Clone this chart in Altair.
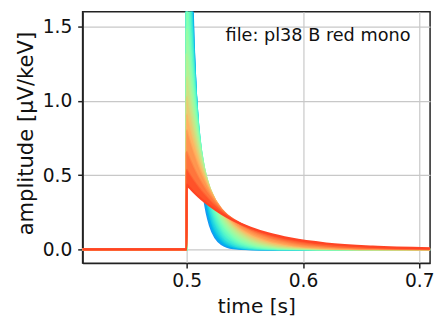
import altair as alt
import pandas as pd

# ---- data ----
time_s = [0.41, 0.4999, 0.5, 0.501, 0.503, 0.506, 0.51, 0.515, 0.52, 0.53,
          0.54, 0.555, 0.57, 0.59, 0.62, 0.66, 0.71]

p00 = [0, 0, 3.500, 3.001, 2.206, 1.391, 0.751, 0.348, 0.161, 0.0347, 0.0074, 0.0007, 0, 0, 0, 0, 0]
p01 = [0, 0, 3.096, 2.701, 2.056, 1.365, 0.791, 0.400, 0.202, 0.0517, 0.0132, 0.0017, 0.0002, 0, 0, 0, 0]
p02 = [0, 0, 2.739, 2.427, 1.905, 1.325, 0.816, 0.446, 0.243, 0.0725, 0.0216, 0.0035, 0.0006, 0, 0, 0, 0]
p03 = [0, 0, 2.423, 2.176, 1.755, 1.272, 0.828, 0.484, 0.283, 0.0966, 0.0330, 0.0066, 0.0013, 0.0002, 0, 0, 0]
p04 = [0, 0, 2.143, 1.948, 1.610, 1.210, 0.827, 0.514, 0.319, 0.1231, 0.0475, 0.0114, 0.0027, 0.0004, 0, 0, 0]
p05 = [0, 0, 1.896, 1.742, 1.471, 1.142, 0.814, 0.534, 0.350, 0.1501, 0.0645, 0.0181, 0.0051, 0.0009, 0.0001, 0, 0]
p06 = [0, 0, 1.677, 1.556, 1.339, 1.070, 0.792, 0.545, 0.374, 0.1769, 0.0836, 0.0272, 0.0088, 0.0020, 0.0002, 0, 0]
p07 = [0, 0, 1.483, 1.388, 1.215, 0.995, 0.763, 0.547, 0.392, 0.2018, 0.1038, 0.0383, 0.0141, 0.0037, 0.0005, 0, 0]
p08 = [0, 0, 1.312, 1.237, 1.099, 0.921, 0.727, 0.541, 0.403, 0.2234, 0.1239, 0.0511, 0.0211, 0.0065, 0.0011, 0.0001, 0]
p09 = [0, 0, 1.161, 1.102, 0.992, 0.848, 0.688, 0.529, 0.408, 0.2414, 0.1430, 0.0652, 0.0297, 0.0104, 0.0022, 0.0003, 0]
p10 = [0, 0, 1.027, 0.980, 0.894, 0.777, 0.646, 0.512, 0.406, 0.2551, 0.1603, 0.0799, 0.0398, 0.0157, 0.0039, 0.0006, 0.0001]
p11 = [0, 0, 0.908, 0.871, 0.802, 0.709, 0.601, 0.490, 0.398, 0.2640, 0.1748, 0.0942, 0.0508, 0.0223, 0.0065, 0.0012, 0.0002]
p12 = [0, 0, 0.803, 0.774, 0.720, 0.645, 0.557, 0.464, 0.387, 0.2684, 0.1863, 0.1077, 0.0623, 0.0300, 0.0100, 0.0023, 0.0004]
p13 = [0, 0, 0.656, 0.637, 0.600, 0.548, 0.486, 0.419, 0.361, 0.2674, 0.1982, 0.1266, 0.0808, 0.0444, 0.0181, 0.0055, 0.0012]
p14 = [0, 0, 0.535, 0.522, 0.497, 0.462, 0.419, 0.371, 0.328, 0.2567, 0.2010, 0.1393, 0.0965, 0.0591, 0.0284, 0.0107, 0.0031]
p15 = [0, 0, 0.4365, 0.428, 0.411, 0.387, 0.357, 0.323, 0.293, 0.2396, 0.1961, 0.1453, 0.1076, 0.0722, 0.0396, 0.0178, 0.0065]

pulses = [p00, p01, p02, p03, p04, p05, p06, p07, p08, p09, p10, p11, p12, p13, p14, p15]

pulse_colors = ["#1a96f3", "#01b3ec", "#17cce4", "#30e1db", "#48f0d0", "#61fac4",
                "#79ffb8", "#92fdaa", "#aaf69b", "#c3e98b", "#dbd77b", "#f4c06a",
                "#ffa558", "#ff8646", "#ff6433", "#ff4424"]
# fill colours of the gradient between neighbouring pulses
band_colors = ["#0da5ef", "#0bc0e8", "#24d7df", "#3ce9d6", "#55f6ca", "#6dfdbe",
               "#86ffb1", "#9efaa3", "#b7f093", "#cfe183", "#e8cc72", "#ffb361",
               "#ff964f", "#ff753c", "#ff5229"]

x_ticks = [0.5, 0.6, 0.7]
y_ticks = [0.0, 0.5, 1.0, 1.5]
title_text = "Pulses vs. time"
annotation_text = "file: pl38 B red mono"

FONT = "DejaVu Sans"

x_scale = alt.Scale(domain=[0.4105, 0.7093], nice=False, zero=False)
y_scale = alt.Scale(domain=[-0.093, 1.6], nice=False, zero=False)

x_axis = alt.Axis(values=x_ticks, format=".1f", title="time [s]",
                  labelFontSize=19, titleFontSize=20.5, tickSize=5,
                  labelPadding=4, titleY=50, titleBaseline="alphabetic")
y_axis = alt.Axis(values=y_ticks, format=".1f", title="amplitude [µV/keV]",
                  labelFontSize=19, titleFontSize=21.5, tickSize=5,
                  labelPadding=6, titleX=-51, titleY=123.5,
                  titleBaseline="alphabetic")


def pulse_line(k):
    d = pd.DataFrame({"time": time_s, "amplitude": pulses[k]})
    return alt.Chart(d).mark_line(
        clip=True, interpolate="monotone", strokeWidth=2.2, color=pulse_colors[k]
    ).encode(
        x=alt.X("time:Q", scale=x_scale, axis=x_axis),
        y=alt.Y("amplitude:Q", scale=y_scale, axis=y_axis),
    )


def pulse_band(k):
    d = pd.DataFrame({"time": time_s, "amplitude": pulses[k], "hi": pulses[k + 1]})
    return alt.Chart(d).mark_area(
        clip=True, interpolate="monotone", color=band_colors[k]
    ).encode(
        x=alt.X("time:Q", scale=x_scale, axis=x_axis),
        y=alt.Y("amplitude:Q", scale=y_scale, axis=y_axis),
        y2="hi:Q",
    )


layers = []
for k in range(len(pulses)):
    layers.append(pulse_line(k))
    if k < len(pulses) - 1:
        layers.append(pulse_band(k))

annot = alt.Chart(pd.DataFrame({"label": [annotation_text]})).mark_text(
    align="right", baseline="alphabetic", font=FONT, fontSize=18, color="#111"
).encode(text="label:N", x=alt.value(334), y=alt.value(30))

title = alt.Chart(pd.DataFrame({"label": [title_text]})).mark_text(
    align="center", baseline="alphabetic", font=FONT, fontSize=20, color="#111"
).encode(text="label:N", x=alt.value(177), y=alt.value(-4))

layers += [annot, title]

chart = alt.layer(*layers).properties(
    width=354, height=256,
    autosize=alt.AutoSizeParams(type="none"),
    padding={"left": 76, "top": 1, "right": 4, "bottom": 55},
).configure_view(
    stroke="#222", strokeWidth=1.5
).configure_axis(
    labelFont=FONT, titleFont=FONT, titleFontWeight="normal",
    labelColor="#111", titleColor="#111",
    domainColor="#222", domainWidth=1.5, tickColor="#222", tickWidth=1.5,
    gridColor="#c8c8c8", gridWidth=1.2,
)

chart.save("out.html", embed_options={"renderer": "svg", "actions": False})
